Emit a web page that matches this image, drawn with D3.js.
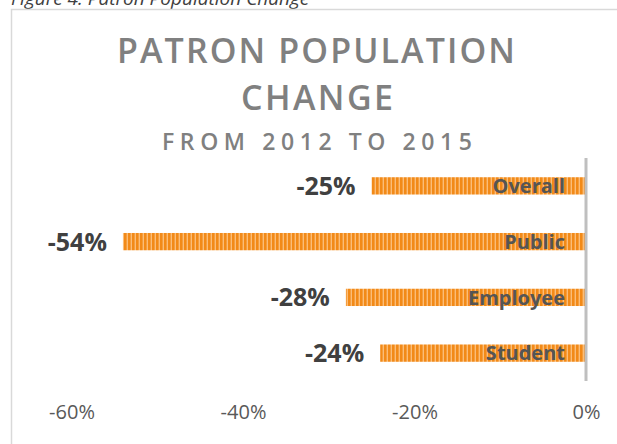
<!DOCTYPE html>
<html>
<head>
<meta charset="utf-8">
<script src="https://d3js.org/d3.v7.min.js"></script>
<style>
  body { margin: 0; background: #fff; }
  * { font-family: "Open Sans", sans-serif; }
</style>
</head>
<body>
<svg id="chart" width="617" height="444"></svg>
<script>
// data
var categories = ["Overall", "Public", "Employee", "Student"];
var changes = [-0.25, -0.54, -0.28, -0.24];
var ticks = [-0.6, -0.4, -0.2, 0];

var svg = d3.select("#chart");

// pattern for the striped bars
var pat = svg.append("defs").append("pattern")
    .attr("id", "stripes")
    .attr("patternUnits", "userSpaceOnUse")
    .attr("width", 4).attr("height", 4);
pat.append("rect").attr("width", 4).attr("height", 4).attr("fill", "#fbbd78");
pat.append("rect").attr("width", 2.6).attr("height", 4).attr("fill", "#f28a18");

// caption above the chart box (top cut off, as in the original)
svg.append("text")
    .attr("x", 11).attr("y", 5)
    .style("font-size", "19px").style("font-style", "italic")
    .attr("fill", "#404040")
    .text("Figure 4: Patron Population Change");

// chart box
svg.append("rect")
    .attr("x", 11.5).attr("y", 9.5)
    .attr("width", 640).attr("height", 460)
    .attr("fill", "none").attr("stroke", "#d9d9d9").attr("stroke-width", 1.5);

var x = d3.scaleLinear().domain([-0.6, 0]).range([71.5, 586]);
var y = d3.scaleBand().domain(categories).range([158, 381]).paddingInner(0.69).paddingOuter(0.345);

// titles
svg.append("text").attr("x", 316).attr("y", 63).attr("text-anchor", "middle")
    .attr("textLength", 398).attr("lengthAdjust", "spacing")
    .style("font-size", "34px").style("font-weight", "600").attr("fill", "#808080")
    .text("PATRON POPULATION");
svg.append("text").attr("x", 317).attr("y", 110).attr("text-anchor", "middle")
    .attr("textLength", 152).attr("lengthAdjust", "spacing")
    .style("font-size", "34px").style("font-weight", "600").attr("fill", "#808080")
    .text("CHANGE");
svg.append("text").attr("x", 317).attr("y", 150).attr("text-anchor", "middle")
    .attr("textLength", 310).attr("lengthAdjust", "spacing")
    .style("font-size", "23px").style("font-weight", "600").attr("fill", "#808080")
    .text("FROM 2012 TO 2015");

// bars
svg.selectAll(".bar")
    .data(changes)
    .enter().append("rect")
    .attr("class", "bar")
    .attr("x", function (d) { return x(d); })
    .attr("y", function (d, i) { return y(categories[i]); })
    .attr("width", function (d) { return x(0) - x(d); })
    .attr("height", y.bandwidth())
    .attr("fill", "url(#stripes)");

// zero line
svg.append("line")
    .attr("x1", x(0)).attr("x2", x(0))
    .attr("y1", y.range()[0]).attr("y2", y.range()[1])
    .attr("stroke", "#bfbfbf").attr("stroke-width", 3);

// value labels
svg.selectAll(".val")
    .data(changes)
    .enter().append("text")
    .attr("class", "val")
    .attr("x", function (d) { return x(d) - 16; })
    .attr("y", function (d, i) { return y(categories[i]) + y.bandwidth() / 2; })
    .attr("dy", "0.36em")
    .attr("text-anchor", "end")
    .style("font-size", "25px").style("font-weight", "bold")
    .attr("fill", "#404040")
    .text(function (d) { return d3.format(".0%")(d).replace("−", "-"); });

// category labels inside bars
svg.selectAll(".cat")
    .data(categories)
    .enter().append("text")
    .attr("class", "cat")
    .attr("x", 565)
    .attr("y", function (d) { return y(d) + y.bandwidth() / 2; })
    .attr("dy", "0.36em")
    .attr("text-anchor", "end")
    .style("font-size", "20px").style("font-weight", "bold")
    .attr("fill", "#555555")
    .text(function (d) { return d; });

// x axis
var axis = svg.append("g")
    .attr("transform", "translate(0,419)")
    .call(d3.axisBottom(x).tickValues(ticks).tickSize(0).tickPadding(0)
        .tickFormat(function (d) { return d3.format(".0%")(d).replace("−", "-"); }));
axis.select(".domain").remove();
axis.selectAll("text")
    .attr("dy", 0)
    .style("font-size", "20px")
    .style("font-family", "'Open Sans', sans-serif")
    .attr("fill", "#595959");
</script>
</body>
</html>
